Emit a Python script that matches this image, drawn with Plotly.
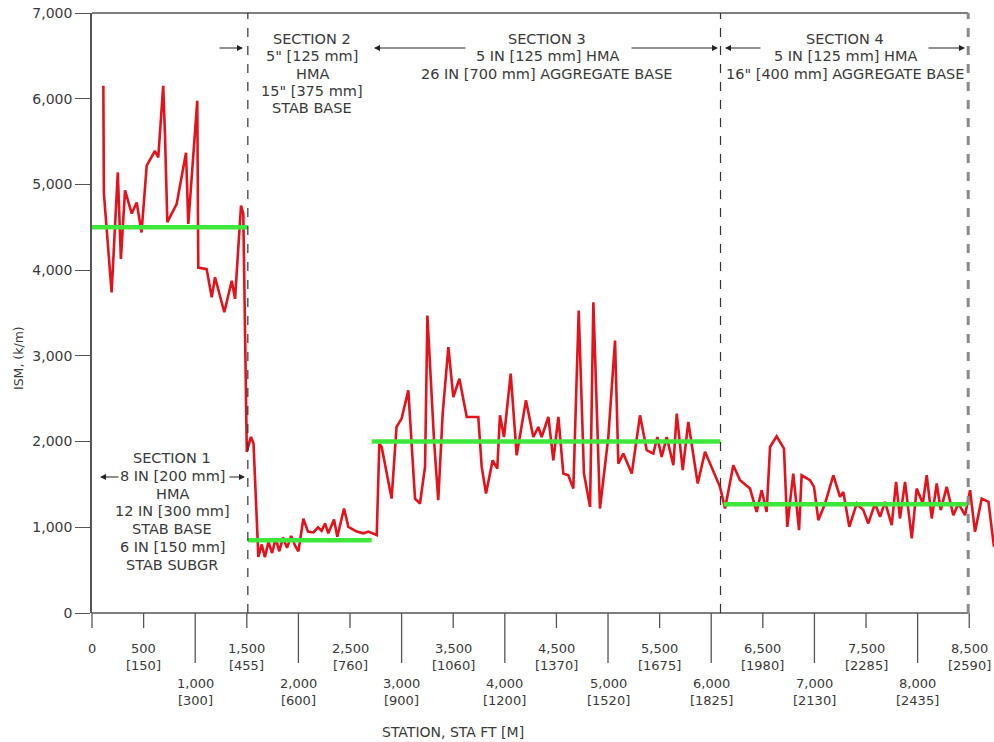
import plotly.graph_objects as go

# ---------------- data ----------------
station_ft = [
    110, 115, 190, 250, 280, 320, 385, 433, 480, 530, 610, 642, 690, 707, 730, 820, 911, 933,
    1020, 1030, 1111, 1160, 1192, 1282, 1354, 1386, 1444, 1466, 1500, 1540, 1565, 1612,
    1645, 1675, 1710, 1745, 1780, 1815, 1850, 1890, 1930, 1970, 2000, 2048, 2093, 2145, 2190,
    2225, 2258, 2290, 2345, 2377, 2442, 2484, 2565, 2630, 2678, 2759, 2784,
    2807, 2903, 2951, 3000, 3065, 3130, 3178, 3227, 3250, 3314, 3355, 3398, 3453, 3501, 3560,
    3631, 3743, 3776, 3818, 3882, 3927, 3953, 3992, 4057, 4115, 4205, 4276, 4325, 4357, 4422,
    4470, 4519, 4567, 4615, 4664, 4716, 4767, 4826, 4858, 4922, 5003, 5068, 5100, 5148, 5230,
    5310, 5375, 5439, 5478, 5520, 5569, 5633, 5666, 5724, 5778, 5869, 5940, 6085,
    6134, 6214, 6279, 6376, 6440, 6489, 6537, 6570, 6634, 6705, 6737, 6795, 6851, 6876, 6957,
    6996, 7038, 7103, 7183, 7248, 7280, 7338, 7410, 7474, 7522, 7587, 7636, 7684, 7749, 7791,
    7829, 7878, 7943, 7991, 8050, 8088, 8137, 8185, 8224, 8282, 8346, 8395, 8460, 8508, 8556,
    8621, 8686, 8740,
]
ism_values = [
    6150, 4900, 3740, 5140, 4130, 4930, 4660, 4790, 4440, 5220, 5390, 5315, 6150, 5590, 4560, 4770, 5370, 4540,
    5975, 4030, 4012, 3684, 3917, 3509, 3877, 3665, 4752, 4655, 1880, 2055, 1980, 655,
    800, 650, 830, 700, 870, 720, 880, 760, 900, 780, 720, 1100, 950, 940, 1000,
    960, 1045, 930, 1090, 890, 1220, 1005, 950, 930, 950, 910, 1975,
    1937, 1335, 2170, 2268, 2597, 1335, 1277, 1704, 3470, 2015, 1316, 2326, 3101, 2520, 2733,
    2287, 2287, 1704, 1394, 1782, 1685, 2306, 2053, 2792, 1840, 2481, 2053, 2170, 2053, 2287,
    1782, 2287, 1627, 1607, 1452, 3529, 1627, 1238, 3626, 1219, 2053, 3179, 1743, 1860, 1627,
    2306, 1899, 1860, 2053, 1821, 2053, 1724, 2326, 1666, 2229, 1511, 1880, 1472,
    1219, 1724, 1549, 1452, 1180, 1433, 1180, 1937, 2061, 1918, 1005, 1627, 967, 1607, 1549,
    1472, 1083, 1277, 1607, 1355, 1413, 1005, 1277, 1200, 1045, 1277, 1122, 1297, 1025, 1529,
    1103, 1529, 870, 1452, 1277, 1607, 1103, 1511, 1200, 1472, 1141, 1277, 1141, 1433, 947,
    1335, 1297, 772,
]

section_start_ft = [0, 1510, 2710, 6120]
section_end_ft = [1510, 2710, 6090, 8480]
section_mean = [4500, 850, 2000, 1270]
section_boundaries_ft = [1510, 6090]
end_boundary_ft = 8490

x_tick_ft = [0, 500, 1000, 1500, 2000, 2500, 3000, 3500, 4000, 4500,
             5000, 5500, 6000, 6500, 7000, 7500, 8000, 8500]
x_tick_ft_label = ["0", "500", "1,000", "1,500", "2,000", "2,500", "3,000", "3,500", "4,000",
                   "4,500", "5,000", "5,500", "6,000", "6,500", "7,000", "7,500", "8,000", "8,500"]
x_tick_m_label = ["", "[150]", "[300]", "[455]", "[600]", "[760]", "[900]", "[1060]", "[1200]",
                  "[1370]", "[1520]", "[1675]", "[1825]", "[1980]", "[2130]", "[2285]", "[2435]", "[2590]"]
y_ticks = [0, 1000, 2000, 3000, 4000, 5000, 6000, 7000]

sec1_lines = ["SECTION 1", "8 IN [200 mm]", "HMA", "12 IN [300 mm]", "STAB BASE", "6 IN [150 mm]", "STAB SUBGR"]
sec2_lines = ["SECTION 2", '5" [125 mm]', "HMA", '15" [375 mm]', "STAB BASE"]
sec3_lines = ["SECTION 3", "5 IN [125 mm] HMA", "26 IN [700 mm] AGGREGATE BASE"]
sec4_lines = ["SECTION 4", "5 IN [125 mm] HMA", '16" [400 mm] AGGREGATE BASE']

# ---------------- layout geometry (screen pixels) ----------------
W, H = 994, 742
L, T, B = 92, 13, 613      # plot area edges
XMAX = 8740
FONT = "DejaVu Sans"
TXT = "#3a3a3a"
AX = "#555555"


def xp(ft):
    return ft / XMAX


def xpx(px):
    return (px - L) / (W - L)


def ypx(py):
    return (B - py) / (B - T)


fig = go.Figure()

fig.add_trace(go.Scatter(x=station_ft, y=ism_values, mode="lines",
                         line=dict(color="#e3121b", width=2.6), showlegend=False))
for s, e, m in zip(section_start_ft, section_end_ft, section_mean):
    fig.add_trace(go.Scatter(x=[s, e], y=[m, m], mode="lines",
                             line=dict(color="#3ee83a", width=4.5), showlegend=False))

shapes = []
shapes.append(dict(type="line", xref="paper", yref="paper", x0=0, x1=xp(end_boundary_ft), y0=1, y1=1,
                   line=dict(color=AX, width=1.5)))
shapes.append(dict(type="line", xref="paper", yref="paper", x0=0, x1=xp(end_boundary_ft), y0=0, y1=0,
                   line=dict(color=AX, width=1.5)))
shapes.append(dict(type="line", xref="paper", yref="paper", x0=xp(end_boundary_ft), x1=xp(end_boundary_ft),
                   y0=0, y1=1, line=dict(color="#8a8a8a", width=3, dash="dash")))
for b in section_boundaries_ft:
    shapes.append(dict(type="line", xref="paper", yref="paper", x0=xp(b), x1=xp(b), y0=0, y1=1,
                       line=dict(color="#333333", width=1.2, dash="dash")))
for i, t in enumerate(x_tick_ft):
    long_tick = (t % 1000 == 0) and t != 0
    ln = 50 if long_tick else 15
    shapes.append(dict(type="line", xref="paper", yref="paper", x0=xp(t), x1=xp(t),
                       y0=0, y1=-ln / (B - T), line=dict(color=AX, width=1.3)))

annotations = []
for i, t in enumerate(x_tick_ft):
    long_tick = (t % 1000 == 0) and t != 0
    y1 = 683 if long_tick else 648
    annotations.append(dict(xref="paper", yref="paper", x=xp(t), y=ypx(y1), text=x_tick_ft_label[i],
                            showarrow=False, xanchor="center", yanchor="middle",
                            font=dict(family=FONT, size=13, color=TXT)))
    if x_tick_m_label[i]:
        annotations.append(dict(xref="paper", yref="paper", x=xp(t), y=ypx(y1 + 17), text=x_tick_m_label[i],
                                showarrow=False, xanchor="center", yanchor="middle",
                                font=dict(family=FONT, size=13, color=TXT)))

annotations.append(dict(xref="paper", yref="paper", x=xpx(453), y=ypx(732), text="STATION, STA FT [M]",
                        showarrow=False, xanchor="center", yanchor="middle",
                        font=dict(family=FONT, size=14, color=TXT)))
annotations.append(dict(xref="paper", yref="paper", x=xpx(18), y=ypx(358), text="ISM, (k/m)",
                        showarrow=False, textangle=-90, xanchor="center", yanchor="middle",
                        font=dict(family=FONT, size=12.5, color=TXT)))


def add_lines(lines, cx, y0, step=17.5):
    for k, s in enumerate(lines):
        annotations.append(dict(xref="paper", yref="paper", x=xpx(cx), y=ypx(y0 + k * step), text=s,
                                showarrow=False, xanchor="center", yanchor="middle",
                                font=dict(family=FONT, size=14.5, color=TXT)))


add_lines(sec1_lines, 172, 458, 17.8)
add_lines(sec2_lines, 312, 39, 17.3)
add_lines(sec3_lines, 547, 39, 17.3)
add_lines(sec4_lines, 845, 39, 17.3)


def arrow(head_px, tail_px, ypos):
    annotations.append(dict(xref="paper", yref="paper", x=xpx(head_px), y=ypx(ypos), text="",
                            showarrow=True, ax=tail_px - head_px, ay=0, arrowhead=2, arrowsize=1,
                            arrowwidth=1.2, arrowcolor="#222222"))


arrow(243, 218, 48)
arrow(374, 467, 48)
arrow(718, 630, 48)
arrow(725, 762, 48)
arrow(965, 927, 48)
arrow(100, 120, 477)
arrow(245, 228, 477)

fig.update_layout(
    width=W, height=H,
    margin=dict(l=L, r=0, t=T, b=H - B),
    paper_bgcolor="white", plot_bgcolor="white",
    xaxis=dict(range=[0, XMAX], visible=False, showgrid=False, zeroline=False),
    yaxis=dict(range=[0, 7000], tickvals=y_ticks, tickformat=",d", showgrid=False, zeroline=False,
               showline=True, linecolor=AX, linewidth=1.5, ticks="outside", ticklen=15,
               tickcolor=AX, tickwidth=1.3, ticklabeloverflow="allow",
               tickfont=dict(family=FONT, size=14, color=TXT)),
    shapes=shapes,
    annotations=annotations,
)

fig.write_html(
    "out.html",
    config={"displayModeBar": False},
    post_script="document.body.style.margin='0px';document.documentElement.style.overflow='hidden';",
)
